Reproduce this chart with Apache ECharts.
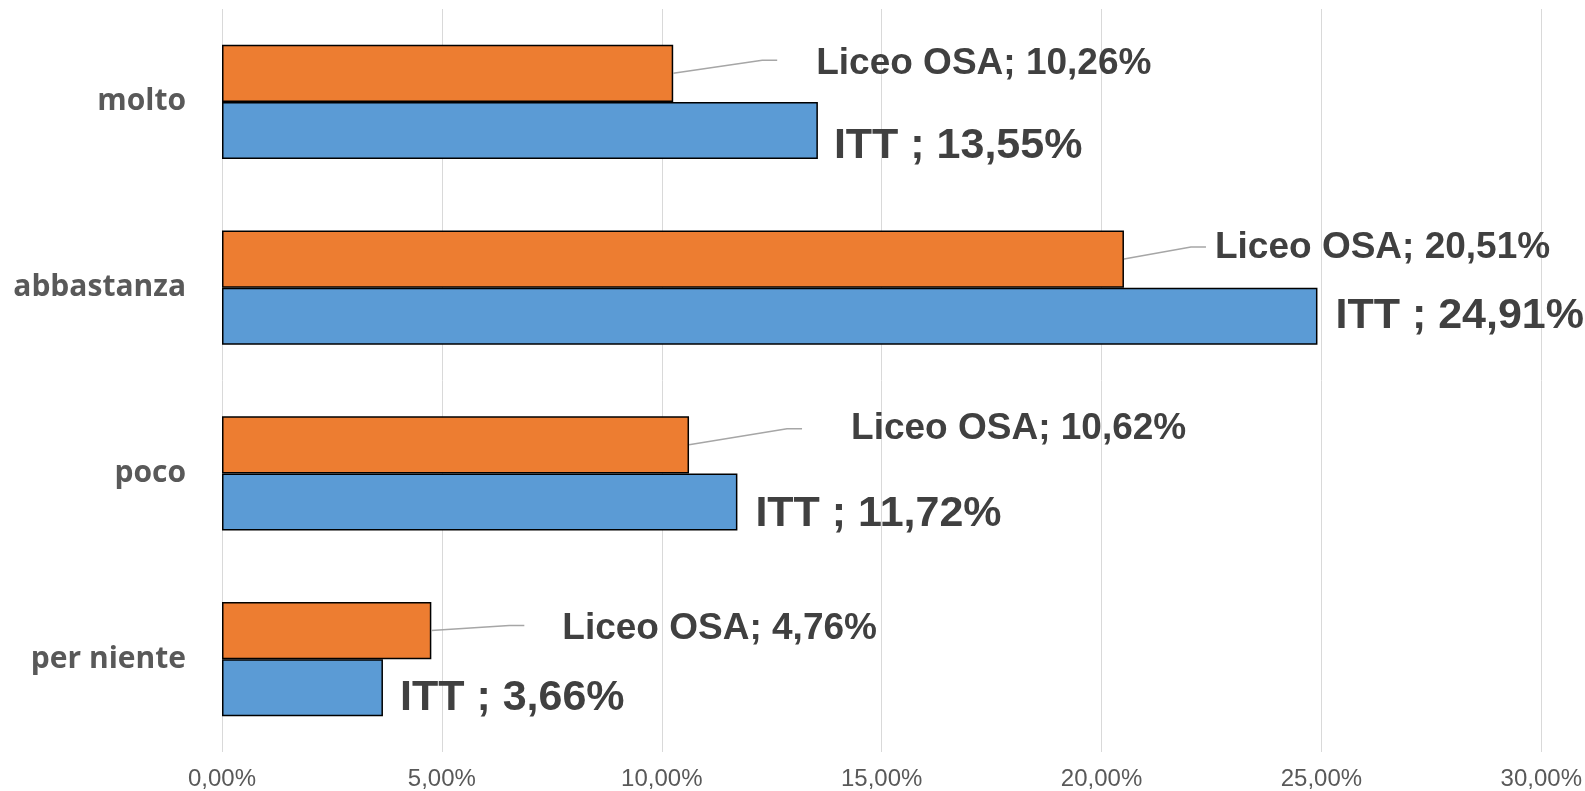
<!DOCTYPE html>
<html>
<head>
<meta charset="utf-8">
<script src="https://cdn.jsdelivr.net/npm/echarts@6/dist/echarts.min.js"></script>
<style>
html,body{margin:0;padding:0;background:#fff;}
#chart{width:1585px;height:791px;}
</style>
</head>
<body>
<div id="chart"></div>
<script>
// Data
const categories = ['per niente', 'poco', 'abbastanza', 'molto'];
const ittValues = [3.66, 11.72, 24.91, 13.55];
const liceoValues = [4.76, 10.62, 20.51, 10.26];
const ittName = 'ITT ';
const liceoName = 'Liceo OSA';
const xTicks = [0, 5, 10, 15, 20, 25, 30];

// Layout (label placements, pixels)
const ittLabelOffsets = [[12, 10], [13, 12], [13, 0], [11, 16]];
const liceoLabelOffsets = [[126, -2], [157, -16], [86, -11], [138, -10]];
const leaderKinks = [[78, -5], [98, -16], [67, -12], [89, -13]];

const fmt = v => v.toFixed(2).replace('.', ',') + '%';
const catGap = 0.385;

const chart = echarts.init(document.getElementById('chart'));
chart.setOption({
  animation: false,
  backgroundColor: '#ffffff',
  grid: {left: 222, right: 41, top: 9, bottom: 37, containLabel: false},
  xAxis: {
    type: 'value', min: xTicks[0], max: xTicks[xTicks.length - 1], interval: xTicks[1] - xTicks[0],
    axisLine: {show: false}, axisTick: {show: false},
    splitLine: {show: true, lineStyle: {color: '#d9d9d9', width: 1}},
    axisLabel: {
      formatter: v => v.toFixed(2).replace('.', ',') + '%',
      color: '#595959', fontFamily: 'Liberation Sans, Arial, sans-serif', fontSize: 24, margin: 15
    }
  },
  yAxis: {
    type: 'category', data: categories,
    axisLine: {show: false}, axisTick: {show: false},
    axisLabel: {color: '#595959', fontFamily: 'Open Sans, sans-serif', fontWeight: 'bold', fontSize: 30, margin: 36}
  },
  series: [
    {
      name: liceoName, type: 'bar', barGap: '0%', barCategoryGap: (catGap * 100) + '%',
      itemStyle: {color: '#ed7d31', borderColor: '#000', borderWidth: 1.5},
      data: liceoValues.map((v, i) => ({
        value: v,
        label: {offset: liceoLabelOffsets[i]}
      })),
      label: {
        show: true, position: 'right', distance: 5,
        formatter: p => 'Liceo OSA; ' + fmt(p.value),
        color: '#404040', fontFamily: 'Liberation Sans, Arial, sans-serif', fontWeight: 'bold', fontSize: 37
      }
    },
    {
      name: ittName, type: 'bar', barGap: '0%', barCategoryGap: (catGap * 100) + '%',
      itemStyle: {color: '#5b9bd5', borderColor: '#000', borderWidth: 1.5},
      data: ittValues.map((v, i) => ({
        value: v,
        label: {offset: ittLabelOffsets[i]}
      })),
      label: {
        show: true, position: 'right', distance: 5,
        formatter: p => 'ITT ; ' + fmt(p.value),
        color: '#404040', fontFamily: 'Liberation Sans, Arial, sans-serif', fontWeight: 'bold', fontSize: 43
      }
    },
    {
      type: 'custom', silent: true, z: 5,
      data: liceoValues.map((v, i) => [v, i]),
      renderItem: function (params, api) {
        const i = params.dataIndex;
        const p = api.coord([api.value(0), api.value(1)]);
        const band = api.size([0, 1])[1];
        const bw = band * (1 - catGap) / 2;
        const sx = p[0], sy = p[1] - bw / 2;
        const k = leaderKinks[i];
        return {
          type: 'polyline',
          shape: {points: [[sx, sy], [sx + k[0], sy + k[1]], [sx + k[0] + 15, sy + k[1]]]},
          style: {stroke: '#a6a6a6', lineWidth: 1.5, fill: null}
        };
      }
    }
  ]
});
</script>
</body>
</html>
